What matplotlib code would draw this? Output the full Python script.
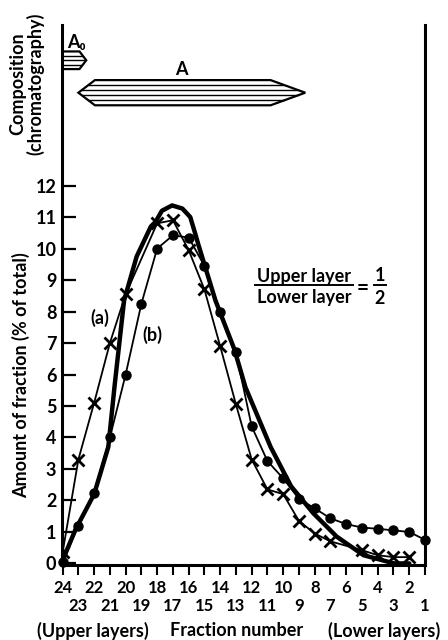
import numpy as np
import matplotlib
matplotlib.use('Agg')
from matplotlib import pyplot as plt
from matplotlib.patches import Polygon

plt.rcParams['font.family'] = ['Lato', 'DejaVu Sans']
plt.rcParams['font.weight'] = 'bold'

# curve (a): crosses
frac_a = [24, 23, 22, 21, 20, 18, 17, 16, 15, 14, 13, 12, 11, 10, 9, 8, 7, 5, 4, 3, 2]
val_a = [0.35, 3.3, 5.1, 7.0, 8.55, 10.8, 10.9, 9.95, 8.7, 6.9, 5.05, 3.3, 2.35, 2.2,
         1.35, 0.95, 0.7, 0.42, 0.26, 0.2, 0.2]

# curve (b): dots
frac_b = list(range(24, 0, -1))
val_b = [0.05, 1.2, 2.25, 4.0, 6.0, 8.25, 10.0, 10.42, 10.35, 9.45, 8.0, 6.7, 4.35, 3.25,
         2.7, 2.05, 1.75, 1.43, 1.25, 1.14, 1.1, 1.05, 1.0, 0.75]

# thick curve (no markers)
frac_t = [24, 23.2, 22.0, 21.1, 20.7, 20.1, 19.3, 18.4, 18.1, 17.7, 17.05, 16.4, 15.9,
          15.6, 15.4, 14.3, 13.1, 12.4, 10.8, 9.5, 8.1, 6.6, 4.9, 2.95, 2.0]
val_t = [0.1, 1.06, 2.2, 3.7, 5.65, 8.35, 9.75, 10.7, 10.85, 11.2, 11.37, 11.27, 11.0,
         10.5, 10.15, 8.35, 6.8, 5.6, 3.7, 2.45, 1.6, 0.85, 0.26, 0.0, 0.0]

# composition (chromatography) bands, fraction range
comp_names = ['A₀', 'A']
comp_start = [24, 23.0]
comp_end = [22.5, 8.6]

fig = plt.figure(figsize=(4.48, 6.4), dpi=100)
ax = fig.add_axes([62 / 448, 1 - 565 / 640, (425 - 62) / 448, (565 - 25) / 640])

ax.plot(frac_t, val_t, color='black', lw=3.2, solid_capstyle='round', solid_joinstyle='round')
ax.plot(frac_a, val_a, color='black', lw=1.3, marker='x', ms=8, mew=2)
ax.plot(frac_b, val_b, color='black', lw=1.3, marker='o', ms=6.5, clip_on=False)

# composition bands
levels = [15.98, 14.95]
half = [0.28, 0.4]
taper_l = [0.0, 1.05]
taper_r = [0.43, 2.2]
stripes = [3, 4]
for i in range(len(comp_names)):
    s, e, y, h = comp_start[i], comp_end[i], levels[i], half[i]
    tl, tr = taper_l[i], taper_r[i]
    pts = [(s, y), (s - tl, y + h), (e + tr, y + h), (e, y), (e + tr, y - h), (s - tl, y - h)]
    ax.add_patch(Polygon(pts, closed=True, facecolor='white', edgecolor='black', lw=1.6,
                         joinstyle='miter'))
    for t in np.linspace(-1, 1, stripes[i] + 2)[1:-1]:
        xl = s - tl * abs(t) - 0.05
        xr = e + tr * abs(t) + 0.05
        ax.plot([xl, xr], [y + h * t, y + h * t], color='black', lw=1.0)

ax.text(23.15, 16.55, comp_names[0], fontsize=13, ha='center', va='center')
ax.text(16.45, 15.7, comp_names[1], fontsize=13, ha='center', va='center')

ax.text(21.66, 7.8, '(a)', fontsize=13, ha='center', va='center')
ax.text(18.33, 7.25, '(b)', fontsize=13, ha='center', va='center')

# ratio label
ax.text(8.67, 9.12, 'Upper layer', fontsize=13, ha='center', va='center')
ax.plot([11.8, 5.55], [8.83, 8.83], color='black', lw=1.4)
ax.text(8.67, 8.45, 'Lower layer', fontsize=13, ha='center', va='center')
ax.text(4.95, 8.75, '=', fontsize=15, ha='center', va='center')
ax.text(3.88, 9.14, '1', fontsize=13, ha='center', va='center')
ax.plot([4.25, 3.5], [8.83, 8.83], color='black', lw=1.4)
ax.text(3.88, 8.42, '2', fontsize=13, ha='center', va='center')

ax.set_xlim(24.04, 1.0)
ax.set_ylim(-0.05, 17.1)

even = [t for t in range(24, 0, -1) if t % 2 == 0]
odd = [t for t in range(24, 0, -1) if t % 2 == 1]
ax.set_xticks(even)
ax.set_xticklabels([str(t) for t in even], fontsize=12)
ax.set_xticks(odd, minor=True)
ax.set_xticklabels([str(t) for t in odd], minor=True, fontsize=12)
ax.set_yticks(range(0, 13))
ax.tick_params(axis='x', which='major', direction='out', length=7, width=1.5, pad=4)
ax.tick_params(axis='x', which='minor', direction='out', length=7, width=1.5, pad=17)
ax.tick_params(axis='y', direction='in', length=10, width=1.6, labelsize=13, pad=4)

ax.spines['top'].set_visible(False)
for sp in ['left', 'right', 'bottom']:
    ax.spines[sp].set_linewidth(2.2)

fig.text(21 / 448, 1 - 375 / 640, 'Amount of fraction (% of total)', rotation=90,
         fontsize=13, ha='center', va='center')
fig.text(27 / 448, 1 - 84 / 640, 'Composition\n(chromatography)', rotation=90,
         fontsize=13, ha='center', va='center', linespacing=1.0)

fig.text(93 / 448, 1 - 631 / 640, '(Upper layers)', fontsize=13, ha='center', va='center')
fig.text(237 / 448, 1 - 631 / 640, 'Fraction number', fontsize=13, ha='center', va='center')
fig.text(384 / 448, 1 - 631 / 640, '(Lower layers)', fontsize=13, ha='center', va='center')

fig.savefig('out.png', dpi=100)
